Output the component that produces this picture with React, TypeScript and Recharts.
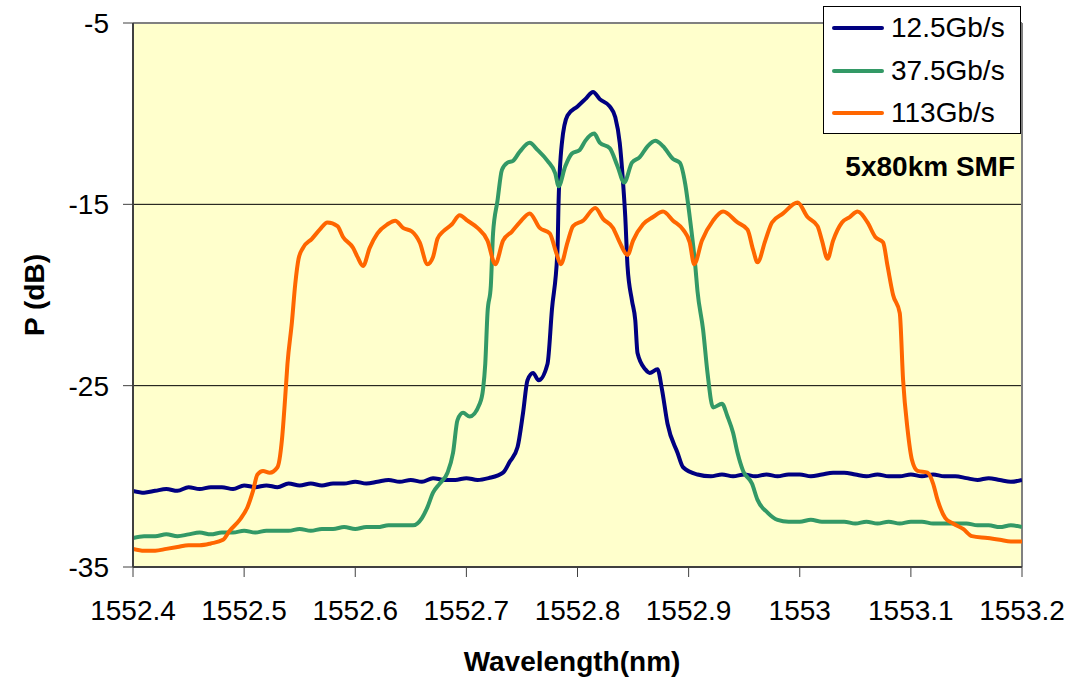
import React from "react";
import {
	CartesianGrid,
	Legend,
	Line,
	LineChart,
	ReferenceLine,
	XAxis,
	YAxis,
} from "recharts";

// Optical spectra after 5x80km SMF, [wavelength nm, power dB]
const trace12G5: [number, number][] = [
	[1552.4, -30.8], [1552.41, -30.9], [1552.42, -30.8], [1552.43, -30.7],
	[1552.44, -30.8], [1552.45, -30.6], [1552.46, -30.7], [1552.47, -30.6],
	[1552.48, -30.6], [1552.49, -30.7], [1552.5, -30.5], [1552.51, -30.6],
	[1552.52, -30.5], [1552.53, -30.6], [1552.54, -30.4], [1552.55, -30.5],
	[1552.56, -30.4], [1552.57, -30.5], [1552.58, -30.4], [1552.59, -30.4],
	[1552.6, -30.3], [1552.61, -30.4], [1552.62, -30.3], [1552.63, -30.2],
	[1552.64, -30.3], [1552.65, -30.2], [1552.66, -30.3], [1552.67, -30.1],
	[1552.68, -30.2], [1552.69, -30.2], [1552.7, -30.1], [1552.71, -30.2],
	[1552.72, -30.1], [1552.733, -29.8], [1552.739, -29.2], [1552.746, -28.4],
	[1552.751, -26.5], [1552.755, -24.7], [1552.76, -24.3], [1552.765, -24.7],
	[1552.773, -23.8], [1552.777, -20.8], [1552.782, -17.5], [1552.783, -14.8],
	[1552.786, -11.6], [1552.791, -10.1], [1552.8, -9.6], [1552.807, -9.2],
	[1552.814, -8.8], [1552.82, -9.2], [1552.829, -9.6], [1552.834, -10.2],
	[1552.838, -11.6], [1552.841, -13.8], [1552.843, -15.7], [1552.845, -18.4],
	[1552.849, -20.3], [1552.852, -21.4], [1552.854, -23.2], [1552.861, -24.1],
	[1552.865, -24.3], [1552.872, -24.1], [1552.876, -25.2], [1552.881, -27.1],
	[1552.89, -28.7], [1552.895, -29.5], [1552.908, -29.9], [1552.92, -30.0],
	[1552.93, -29.9], [1552.94, -30.0], [1552.95, -29.9], [1552.96, -30.0],
	[1552.97, -29.9], [1552.98, -30.0], [1552.99, -29.9], [1553.0, -29.9],
	[1553.01, -30.0], [1553.02, -29.9], [1553.03, -29.8], [1553.04, -29.8],
	[1553.05, -29.9], [1553.06, -30.0], [1553.07, -29.9], [1553.08, -30.0],
	[1553.09, -30.0], [1553.1, -29.9], [1553.11, -30.0], [1553.12, -29.9],
	[1553.13, -30.0], [1553.14, -30.0], [1553.15, -30.1], [1553.16, -30.2],
	[1553.17, -30.1], [1553.18, -30.2], [1553.19, -30.3], [1553.2, -30.2],
];

const trace37G5: [number, number][] = [
	[1552.4, -33.4], [1552.41, -33.3], [1552.42, -33.3], [1552.43, -33.2],
	[1552.44, -33.3], [1552.45, -33.2], [1552.46, -33.1], [1552.47, -33.2],
	[1552.48, -33.1], [1552.49, -33.1], [1552.5, -33.0], [1552.51, -33.1],
	[1552.52, -33.0], [1552.53, -33.0], [1552.54, -33.0], [1552.55, -32.9],
	[1552.56, -33.0], [1552.57, -32.9], [1552.58, -32.9], [1552.59, -32.8],
	[1552.6, -32.9], [1552.61, -32.8], [1552.62, -32.8], [1552.63, -32.7],
	[1552.64, -32.7], [1552.652, -32.7], [1552.66, -32.3], [1552.665, -31.7],
	[1552.67, -30.9], [1552.676, -30.4], [1552.683, -29.8], [1552.688, -28.7],
	[1552.692, -26.9], [1552.697, -26.5], [1552.703, -26.7], [1552.712, -26.0],
	[1552.715, -25.2], [1552.717, -23.8], [1552.719, -21.0], [1552.722, -19.5],
	[1552.724, -16.6], [1552.728, -14.8], [1552.732, -13.1], [1552.737, -12.7],
	[1552.742, -12.6], [1552.748, -12.1], [1552.757, -11.6], [1552.764, -12.0],
	[1552.773, -12.6], [1552.78, -13.3], [1552.783, -14.0], [1552.789, -12.9],
	[1552.795, -12.2], [1552.802, -12.0], [1552.807, -11.5], [1552.815, -11.1],
	[1552.82, -11.6], [1552.829, -11.9], [1552.836, -12.9], [1552.842, -13.8],
	[1552.849, -12.7], [1552.856, -12.4], [1552.863, -11.8], [1552.87, -11.5],
	[1552.877, -11.8], [1552.886, -12.5], [1552.892, -12.7], [1552.897, -13.9],
	[1552.901, -15.7], [1552.906, -18.4], [1552.908, -19.8], [1552.913, -21.9],
	[1552.917, -24.3], [1552.922, -26.2], [1552.93, -26.0], [1552.935, -26.7],
	[1552.94, -27.6], [1552.944, -28.7], [1552.949, -29.7], [1552.957, -30.4],
	[1552.962, -31.3], [1552.971, -32.0], [1552.98, -32.4], [1552.99, -32.5],
	[1553.0, -32.5], [1553.01, -32.4], [1553.02, -32.5], [1553.03, -32.5],
	[1553.04, -32.5], [1553.05, -32.6], [1553.06, -32.5], [1553.07, -32.6],
	[1553.08, -32.5], [1553.09, -32.6], [1553.1, -32.5], [1553.11, -32.5],
	[1553.12, -32.6], [1553.13, -32.6], [1553.14, -32.6], [1553.15, -32.6],
	[1553.16, -32.7], [1553.17, -32.7], [1553.18, -32.8], [1553.19, -32.7],
	[1553.2, -32.8],
];

const trace113G: [number, number][] = [
	[1552.4, -34.0], [1552.41, -34.1], [1552.42, -34.1], [1552.43, -34.0],
	[1552.44, -33.9], [1552.45, -33.8], [1552.46, -33.8], [1552.47, -33.7],
	[1552.481, -33.5], [1552.487, -33.0], [1552.496, -32.4], [1552.503, -31.7],
	[1552.508, -30.8], [1552.512, -29.9], [1552.517, -29.7], [1552.523, -29.8],
	[1552.53, -29.5], [1552.534, -28.0], [1552.537, -25.6], [1552.539, -23.8],
	[1552.543, -21.5], [1552.546, -19.4], [1552.549, -18.0], [1552.553, -17.4],
	[1552.561, -16.9], [1552.568, -16.4], [1552.575, -16.0], [1552.584, -16.2],
	[1552.589, -16.8], [1552.598, -17.4], [1552.602, -17.9], [1552.607, -18.4],
	[1552.613, -17.4], [1552.62, -16.6], [1552.629, -16.1], [1552.636, -15.9],
	[1552.643, -16.3], [1552.651, -16.5], [1552.658, -17.1], [1552.665, -18.3],
	[1552.67, -17.9], [1552.674, -16.9], [1552.679, -16.5], [1552.687, -16.1],
	[1552.694, -15.6], [1552.701, -15.9], [1552.71, -16.3], [1552.719, -17.0],
	[1552.726, -18.3], [1552.733, -17.0], [1552.741, -16.5], [1552.748, -16.0],
	[1552.757, -15.5], [1552.766, -16.3], [1552.775, -16.6], [1552.781, -17.7],
	[1552.785, -18.3], [1552.791, -17.1], [1552.796, -16.2], [1552.805, -15.9],
	[1552.816, -15.2], [1552.823, -15.8], [1552.832, -16.3], [1552.838, -17.1],
	[1552.845, -17.8], [1552.85, -17.0], [1552.859, -16.1], [1552.868, -15.7],
	[1552.877, -15.4], [1552.886, -15.9], [1552.895, -16.4], [1552.901, -17.1],
	[1552.905, -18.3], [1552.912, -17.0], [1552.922, -15.9], [1552.931, -15.4],
	[1552.944, -16.0], [1552.953, -16.4], [1552.958, -17.5], [1552.962, -18.2],
	[1552.969, -17.0], [1552.975, -16.0], [1552.985, -15.5], [1552.998, -14.9],
	[1553.007, -15.7], [1553.016, -16.2], [1553.02, -17.0], [1553.025, -18.0],
	[1553.03, -17.0], [1553.038, -16.0], [1553.045, -15.7], [1553.052, -15.4],
	[1553.061, -16.0], [1553.068, -16.8], [1553.075, -17.1], [1553.079, -18.4],
	[1553.084, -20.0], [1553.09, -21.0], [1553.093, -24.7], [1553.097, -27.4],
	[1553.101, -29.1], [1553.106, -29.7], [1553.115, -29.8], [1553.12, -30.4],
	[1553.124, -31.3], [1553.131, -32.3], [1553.138, -32.6], [1553.147, -32.9],
	[1553.155, -33.3], [1553.169, -33.4], [1553.18, -33.5], [1553.19, -33.6],
	[1553.2, -33.6],
];

const wavelengthTicks = [
	1552.4, 1552.5, 1552.6, 1552.7, 1552.8, 1552.9, 1553.0, 1553.1, 1553.2,
];
const powerTicks = [-35, -25, -15, -5];

const series = [
	{name: "12.5Gb/s", color: "#000080", points: trace12G5},
	{name: "37.5Gb/s", color: "#339966", points: trace37G5},
	{name: "113Gb/s", color: "#FF6600", points: trace113G},
];

const FONT = "'Liberation Sans', Arial, sans-serif";
const W = 1089;
const H = 677;

const toRows = (pts: [number, number][]) => pts.map(([w, p]) => ({w, p}));

const LegendBox = () => (
	<div
		style={{
			width: 196,
			height: 126,
			border: "1px solid #000",
			background: "#fff",
			boxSizing: "content-box",
		}}
	>
		{series.map((s, i) => (
			<div
				key={s.name}
				style={{
					position: "absolute",
					left: 9,
					top: 22 + i * 42.5 - 14,
					height: 28,
					display: "flex",
					alignItems: "center",
				}}
			>
				<svg width={52} height={8} style={{display: "block"}}>
					<line
						x1={2}
						y1={4}
						x2={50}
						y2={4}
						stroke={s.color}
						strokeWidth={4}
						strokeLinecap="round"
					/>
				</svg>
				<span
					style={{
						marginLeft: 7,
						fontFamily: FONT,
						fontSize: 28,
						lineHeight: "28px",
						color: "#000",
					}}
				>
					{s.name}
				</span>
			</div>
		))}
	</div>
);

export default function App() {
	return (
		<div
			style={{
				position: "absolute",
				left: 0,
				top: 0,
				width: W,
				height: H,
				background: "#fff",
				fontFamily: FONT,
			}}
		>
			<LineChart
				width={W}
				height={H}
				margin={{top: 23, right: 67, left: 33, bottom: 0}}
			>
				<CartesianGrid
					vertical={false}
					stroke="#000"
					strokeWidth={1}
					fill="#FFFFCC"
				/>
				<XAxis
					type="number"
					dataKey="w"
					domain={[1552.4, 1553.2]}
					ticks={wavelengthTicks}
					allowDataOverflow
					height={110}
					tickSize={10}
					tickMargin={23}
					tickFormatter={(v: number) => String(v)}
					tick={{fill: "#000", fontSize: 28, fontFamily: FONT}}
					axisLine={{stroke: "#404040", strokeWidth: 2}}
					tickLine={{stroke: "#404040", strokeWidth: 1}}
				/>
				<YAxis
					type="number"
					domain={[-35, -5]}
					ticks={powerTicks}
					allowDataOverflow
					width={100}
					tickSize={10}
					tickMargin={14}
					tick={{fill: "#000", fontSize: 28, fontFamily: FONT}}
					axisLine={{stroke: "#404040", strokeWidth: 2}}
					tickLine={{stroke: "#404040", strokeWidth: 1}}
				/>
				<ReferenceLine y={-5} stroke="#808080" strokeWidth={2} />
				<ReferenceLine x={1553.2} stroke="#808080" strokeWidth={2} />
				{series.map((s) => (
					<Line
						key={s.name}
						name={s.name}
						data={toRows(s.points)}
						dataKey="p"
						type="monotoneX"
						stroke={s.color}
						strokeWidth={4}
						strokeLinejoin="round"
						dot={false}
						activeDot={false}
						isAnimationActive={false}
					/>
				))}
				<Legend
					layout="vertical"
					align="center"
					verticalAlign="middle"
					content={() => <LegendBox />}
					wrapperStyle={{
						position: "absolute",
						left: 823,
						top: 6,
						width: 198,
						height: 128,
					}}
				/>
			</LineChart>

			{/* axis titles and annotation */}
			<div
				style={{
					position: "absolute",
					left: 35 - 100,
					top: 295 - 14,
					width: 200,
					height: 28,
					lineHeight: "28px",
					textAlign: "center",
					fontSize: 28,
					fontWeight: "bold",
					transform: "rotate(-90deg)",
				}}
			>
				P (dB)
			</div>
			<div
				style={{
					position: "absolute",
					left: 572 - 150,
					top: 648,
					width: 300,
					lineHeight: "28px",
					textAlign: "center",
					fontSize: 28,
					fontWeight: "bold",
				}}
			>
				Wavelength(nm)
			</div>
			<div
				style={{
					position: "absolute",
					right: W - 1015,
					top: 153,
					lineHeight: "28px",
					fontSize: 28,
					fontWeight: "bold",
					whiteSpace: "nowrap",
				}}
			>
				5x80km SMF
			</div>
		</div>
	);
}
